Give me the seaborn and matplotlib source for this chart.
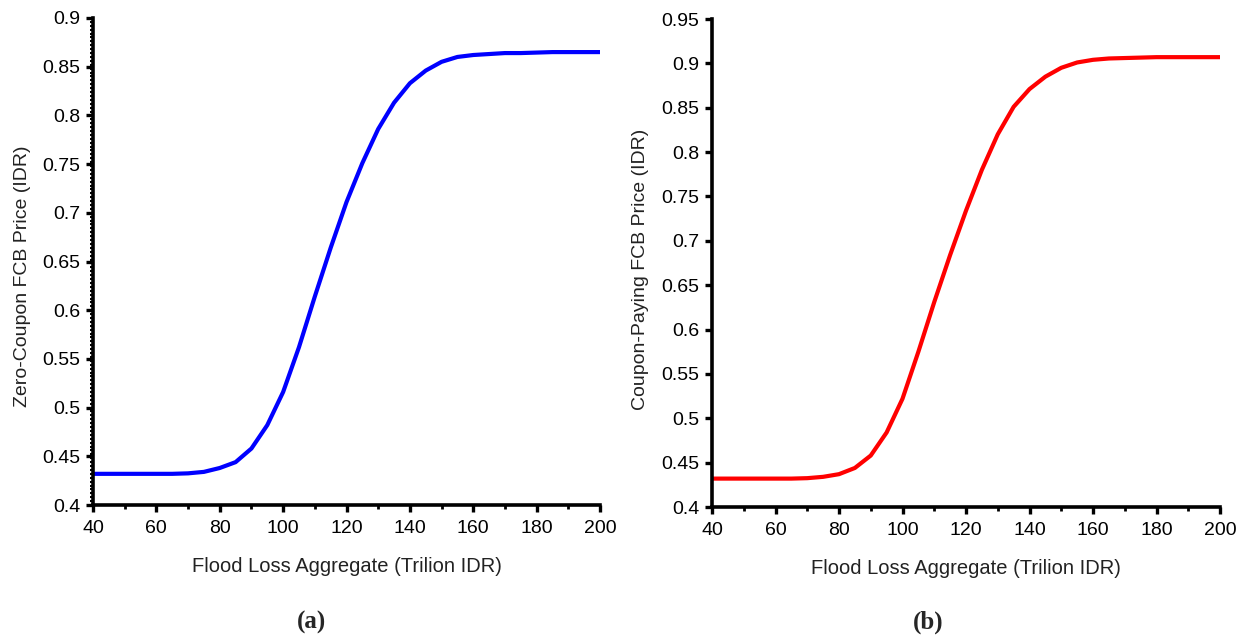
import numpy as np
import pandas as pd
import matplotlib
matplotlib.use("Agg")
import matplotlib.pyplot as plt
from matplotlib.ticker import MultipleLocator
import seaborn as sns

# ---- data ----
flood_loss = [40, 45, 50, 55, 60, 65, 70, 75, 80, 85, 90, 95, 100, 105, 110, 115,
              120, 125, 130, 135, 140, 145, 150, 155, 160, 165, 170, 175, 180,
              185, 190, 195, 200]
zero_coupon_price = [0.432, 0.432, 0.432, 0.432, 0.432, 0.432, 0.4325, 0.434, 0.438,
                     0.444, 0.458, 0.482, 0.516, 0.562, 0.614, 0.664, 0.711, 0.751,
                     0.786, 0.813, 0.833, 0.846, 0.855, 0.860, 0.862, 0.863, 0.864,
                     0.864, 0.8645, 0.865, 0.865, 0.865, 0.865]
coupon_paying_price = [0.432, 0.432, 0.432, 0.432, 0.432, 0.432, 0.4325, 0.434, 0.437,
                       0.444, 0.458, 0.484, 0.522, 0.575, 0.631, 0.684, 0.734, 0.780,
                       0.820, 0.851, 0.871, 0.885, 0.895, 0.901, 0.904, 0.9055, 0.906,
                       0.9065, 0.907, 0.907, 0.907, 0.907, 0.907]
x_ticks = [40, 60, 80, 100, 120, 140, 160, 180, 200]
y_ticks_a = [0.4, 0.45, 0.5, 0.55, 0.6, 0.65, 0.7, 0.75, 0.8, 0.85, 0.9]
y_ticks_b = [0.4, 0.45, 0.5, 0.55, 0.6, 0.65, 0.7, 0.75, 0.8, 0.85, 0.9, 0.95]
x_label = "Flood Loss Aggregate (Trilion IDR)"
y_label_a = "Zero-Coupon FCB Price (IDR)"
y_label_b = "Coupon-Paying FCB Price (IDR)"
panel_labels = ["(a)", "(b)"]

sns.set_theme(style="white")
plt.rcParams["font.family"] = ["Liberation Sans", "DejaVu Sans"]

df_a = pd.DataFrame({"x": flood_loss, "y": zero_coupon_price})
df_b = pd.DataFrame({"x": flood_loss, "y": coupon_paying_price})

fig = plt.figure(figsize=(12.44, 6.36), dpi=100)
ax_a = fig.add_axes([93 / 1244, 1 - 505 / 636, 507 / 1244, 487 / 636])
ax_b = fig.add_axes([712 / 1244, 1 - 507 / 636, 508 / 1244, 488 / 636])


def style_axis(ax, yticks, ylim, ylabel, ylabel_x, ylabel_y, y_minor):
    for s in ["top", "right"]:
        ax.spines[s].set_visible(False)
    for s in ["left", "bottom"]:
        ax.spines[s].set_color("black")
        ax.spines[s].set_linewidth(2.6)
    ax.set_xlim(40, 200)
    ax.set_ylim(*ylim)
    ax.set_xticks(x_ticks)
    ax.set_xticklabels([str(t) for t in x_ticks])
    ax.set_yticks(yticks)
    ax.set_yticklabels([f"{t:g}" for t in yticks])
    ax.xaxis.set_minor_locator(MultipleLocator(10))
    if y_minor:
        ax.yaxis.set_minor_locator(MultipleLocator(0.004))
    ax.tick_params(axis="both", which="major", direction="out", length=5,
                   width=2.4, color="black", labelsize=14, labelcolor="black",
                   bottom=True, left=True, pad=4)
    ax.tick_params(axis="x", which="major", pad=6)
    ax.tick_params(axis="x", which="minor", direction="out", length=3,
                   width=2, color="black", bottom=True)
    if y_minor:
        ax.tick_params(axis="y", which="minor", direction="out", length=2,
                       width=1.5, color="black", left=True)
    ax.set_xlabel(x_label, fontsize=14.5, color="#222222", labelpad=14)
    ax.set_ylabel(ylabel, fontsize=14, color="#222222")
    ax.yaxis.set_label_coords(ylabel_x, ylabel_y)
    ax.grid(False)
    ax.set_facecolor("white")


sns.lineplot(data=df_a, x="x", y="y", ax=ax_a, color="#0000ff", linewidth=3.0)
sns.lineplot(data=df_b, x="x", y="y", ax=ax_b, color="#ff0000", linewidth=3.0)
for ax in (ax_a, ax_b):
    for ln in ax.get_lines():
        ln.set_solid_joinstyle("round")
        ln.set_solid_capstyle("butt")

style_axis(ax_a, y_ticks_a, (0.4, 0.9), y_label_a, -0.122, 0.47, True)
style_axis(ax_b, y_ticks_b, (0.4, 0.95), y_label_b, -0.124, 0.486, False)

fig.text(311 / 1244, 1 - 622 / 636, panel_labels[0], ha="center", va="center",
         fontsize=18, fontweight="bold", family=["Liberation Serif", "DejaVu Serif"])
fig.text(928 / 1244, 1 - 622 / 636, panel_labels[1], ha="center", va="center",
         fontsize=18, fontweight="bold", family=["Liberation Serif", "DejaVu Serif"])

fig.savefig("out.png", dpi=100, facecolor="white")
